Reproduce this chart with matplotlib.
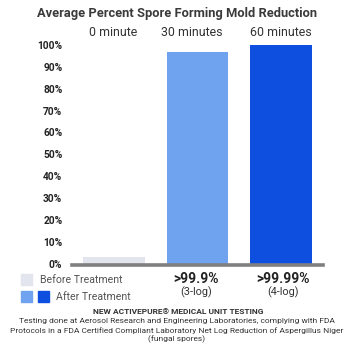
import matplotlib
matplotlib.use("Agg")
import matplotlib.pyplot as plt
from matplotlib.patches import Rectangle

plt.rcParams['font.family'] = ['Roboto', 'DejaVu Sans']

# data
categories = ['0 minute', '30 minutes', '60 minutes']
reduction = [3, 97, 100]
bar_colors = ['#e2e5ed', '#6fa3f0', '#0f4fe0']
yticks = list(range(0, 101, 10))
ytick_labels = [f'{t}%' for t in yticks]
results = ['>99.9%', '>99.99%']
logs = ['(3-log)', '(4-log)']

W = H = 354


def fx(px):
    return px / W


def fy(py):
    return 1 - py / H


fig = plt.figure(figsize=(3.54, 3.54), dpi=100)
fig.patch.set_facecolor('white')

ax = fig.add_axes([fx(72), fy(263.5), fx(323) - fx(72), fy(45) - fy(263.5)])
x = range(len(categories))
ax.bar(x, reduction, width=0.74, color=bar_colors, zorder=2)
ax.axhline(-0.8, color='#7f7f7f', linewidth=2.6, zorder=3, clip_on=False)
ax.set_xlim(-0.5, 2.5)
ax.set_ylim(0, 100)
ax.set_yticks(yticks)
ax.set_yticklabels(ytick_labels, fontsize=7.3, fontweight='bold', color='#222222')
ax.tick_params(axis='y', length=0, pad=7)
ax.set_xticks([])
for s in ax.spines.values():
    s.set_visible(False)

# title and category labels
fig.text(fx(177), fy(13), 'Average Percent Spore Forming Mold Reduction',
         ha='center', va='center', fontsize=9.3, fontweight='bold', color='#3a3a3a')
for cx, lab in zip([113, 192, 281], categories):
    fig.text(fx(cx), fy(33), lab, ha='center', va='center', fontsize=8.9, color='#333333')

# legend
fig.add_artist(Rectangle((fx(21), fy(285)), fx(11), fy(274) - fy(285),
                         transform=fig.transFigure, color=bar_colors[0]))
fig.add_artist(Rectangle((fx(21), fy(302)), fx(11), fy(291) - fy(302),
                         transform=fig.transFigure, color=bar_colors[1]))
fig.add_artist(Rectangle((fx(38), fy(302)), fx(10.5), fy(291) - fy(302),
                         transform=fig.transFigure, color=bar_colors[2]))
fig.text(fx(39.5), fy(280), 'Before Treatment', ha='left', va='center', fontsize=7.6, color='#555555')
fig.text(fx(56), fy(296.5), 'After Treatment', ha='left', va='center', fontsize=7.6, color='#555555')

# results under bars
for cx, r, lg in zip([196.5, 283], results, logs):
    fig.text(fx(cx), fy(279), r, ha='center', va='center', fontsize=10, fontweight='bold', color='#222222')
    fig.text(fx(cx), fy(292), lg, ha='center', va='center', fontsize=7.8, color='#333333')

# footer
fig.text(fx(178), fy(312), 'NEW ACTIVEPURE® MEDICAL UNIT TESTING', ha='center', va='center',
         fontsize=6, fontweight='bold', color='#333333')
footer = ['Testing done at Aerosol Research and Engineering Laboratories, complying with FDA',
          'Protocols in a FDA Certified Compliant Laboratory Net Log Reduction of Aspergillus Niger',
          '(fungal spores)']
for py, line in zip([321.3, 330.3, 339.3], footer):
    fig.text(fx(177), fy(py), line, ha='center', va='center', fontsize=6, color='#333333')

fig.savefig('out.png', dpi=100, facecolor='white')
